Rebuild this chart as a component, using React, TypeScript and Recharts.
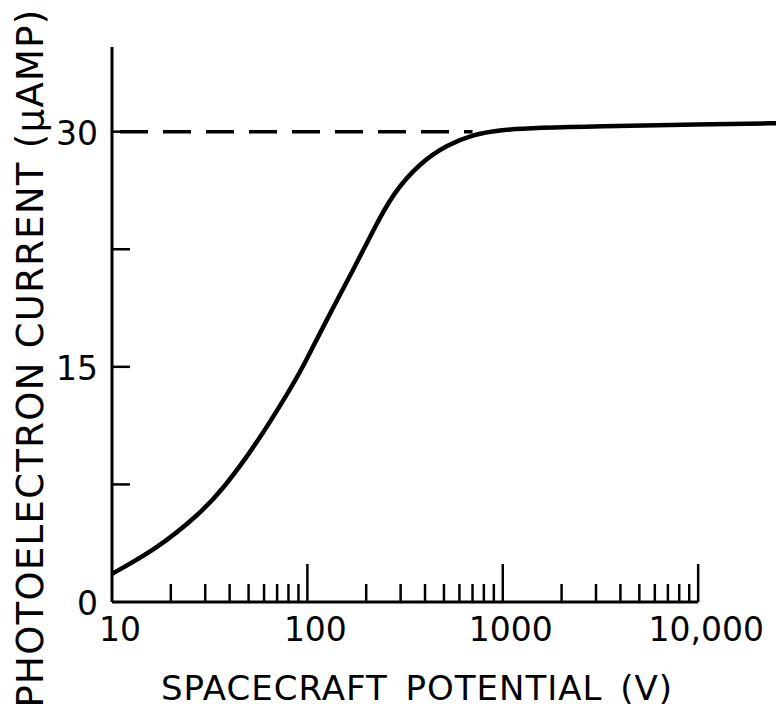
import React from "react";
import { Line, LineChart, ReferenceLine, XAxis, YAxis } from "recharts";

// spacecraft potential (V) vs photoelectron current (µA)
const potential = [10, 17, 28, 37, 55, 81, 95, 123, 172, 217, 275, 377, 516, 706, 931, 1550, 3000, 10000, 27500];
const current = [1.8, 3.4, 5.6, 7.2, 10.1, 13.5, 15.0, 17.8, 21.2, 23.7, 26.1, 28.0, 29.15, 29.8, 30.1, 30.25, 30.35, 30.45, 30.55];

const saturation = 30;
const dashEnd = 700;

const xTicks = [
    10, 20, 30, 40, 50, 60, 70, 80, 90,
    100, 200, 300, 400, 500, 600, 700, 800, 900,
    1000, 2000, 3000, 4000, 5000, 6000, 7000, 8000, 9000,
    10000,
];
const xMajor = [100, 1000, 10000];
const xLabelValues = [10, 100, 1000, 10000];
const xLabels = ["10", "100", "1000", "10,000"];

const yTicks = [0, 7.5, 15, 22.5, 30];
const yLabelValues = [0, 15, 30];
const yLabels = ["0", "15", "30"];

const font = "DejaVu Sans";

const data = potential.map((v, i) => ({ v, i: current[i] }));

const XTick = ({ x, y, payload }: any) => {
    const v = payload.value;
    const len = v === 10 ? 0 : xMajor.includes(v) ? 38 : 18;
    const idx = xLabelValues.indexOf(v);
    return (
        <g>
            {len > 0 && <line x1={x} x2={x} y1={y} y2={y - len} stroke="#000" strokeWidth={2.5} />}
            {idx >= 0 && (
                <text x={x + 8} y={y + 39} textAnchor="middle" fontFamily={font} fontSize={33} fill="#000">
                    {xLabels[idx]}
                </text>
            )}
        </g>
    );
};

const YTick = ({ x, y, payload }: any) => {
    const v = payload.value;
    const idx = yLabelValues.indexOf(v);
    return (
        <g>
            {v !== 0 && <line x1={x} x2={x + 18} y1={y} y2={y} stroke="#000" strokeWidth={2.5} />}
            {idx >= 0 && (
                <text x={x - 14} y={y + 13} textAnchor="end" fontFamily={font} fontSize={33} fill="#000">
                    {yLabels[idx]}
                </text>
            )}
        </g>
    );
};

const yTitle = () => (
    <text
        x={22}
        y={350}
        transform="rotate(-90, 22, 350)"
        textAnchor="middle"
        dominantBaseline="central"
        fontFamily={font}
        fontSize={37}
        letterSpacing={1.3}
        fill="#000"
    >
        PHOTOELECTRON CURRENT (μAMP)
    </text>
);

const xTitle = () => (
    <text
        x={409}
        y={692}
        textAnchor="middle"
        fontFamily={font}
        fontSize={34}
        letterSpacing={1}
        wordSpacing={6}
        fill="#000"
    >
        SPACECRAFT POTENTIAL (V)
    </text>
);

export default function App() {
    return (
        <LineChart width={776} height={704} data={data} margin={{ top: 39, right: 0, bottom: 0, left: 0 }}>
            <XAxis
                dataKey="v"
                type="number"
                scale="log"
                domain={[10, 27500]}
                ticks={xTicks}
                interval={0}
                height={110}
                axisLine={false}
                tickLine={false}
                tickSize={0}
                tickMargin={0}
                tick={XTick}
                label={xTitle}
            />
            <YAxis
                type="number"
                domain={[0, 35.4]}
                ticks={yTicks}
                interval={0}
                width={104}
                axisLine={{ stroke: "#000", strokeWidth: 3 }}
                tickLine={false}
                tickSize={0}
                tickMargin={0}
                tick={YTick}
                label={yTitle}
            />
            <ReferenceLine
                segment={[{ x: 10, y: 0 }, { x: 10000, y: 0 }]}
                stroke="#000"
                strokeWidth={3}
            />
            <ReferenceLine
                segment={[{ x: 10, y: saturation }, { x: dashEnd, y: saturation }]}
                stroke="#000"
                strokeWidth={3.5}
                strokeDasharray="28 15"
                strokeDashoffset={35}
            />
            <Line
                dataKey="i"
                type="basis"
                stroke="#000"
                strokeWidth={4.5}
                dot={false}
                activeDot={false}
                isAnimationActive={false}
            />
        </LineChart>
    );
}
